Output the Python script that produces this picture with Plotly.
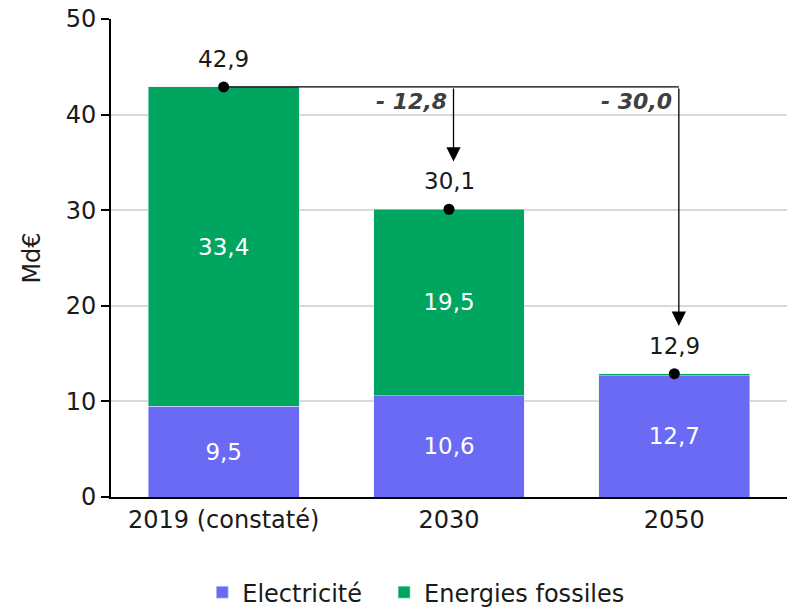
import plotly.graph_objects as go

categories = ["2019 (constaté)", "2030", "2050"]
electricite = [9.5, 10.6, 12.7]
fossiles = [33.4, 19.5, 0.2]
totals = [42.9, 30.1, 12.9]
y_ticks = [0, 10, 20, 30, 40, 50]

PURPLE = "#6a6af4"
GREEN = "#00a55f"
FONT = "DejaVu Sans"
FS = 24

def fmt(v):
    return f"{v:.1f}".replace(".", ",")

fig = go.Figure()
fig.add_bar(x=categories, y=electricite, name="Electricité", marker_color=PURPLE,
            text=[fmt(v) for v in electricite], textposition="inside",
            insidetextanchor="middle", textfont=dict(color="white", size=FS - 1, family=FONT),
            width=0.67, legend="legend")
fig.add_bar(x=categories, y=fossiles, name="Energies fossiles", marker_color=GREEN,
            text=[fmt(v) if v > 2 else "" for v in fossiles], textposition="inside",
            insidetextanchor="middle", textfont=dict(color="white", size=FS - 1, family=FONT),
            width=0.67, legend="legend2")
fig.add_scatter(x=categories, y=totals, mode="markers", marker=dict(color="black", size=11),
                showlegend=False, hoverinfo="skip")

for i, t in enumerate(totals):
    fig.add_annotation(x=i, y=t, text=fmt(t), showarrow=False, yshift=28,
                       font=dict(size=FS - 1, color="#1a1a1a", family=FONT))

# connector line from 2019 total to 2050
base = totals[0]
xoff = 0.02
fig.add_shape(type="line", x0=0, x1=2 + xoff, y0=base, y1=base,
              line=dict(color="black", width=1.3), layer="above")
for i in (1, 2):
    tip = totals[i] + 5.0
    fig.add_annotation(x=i + xoff, y=tip, ax=i + xoff, ay=base, axref="x", ayref="y",
                       xref="x", yref="y", showarrow=True, arrowhead=2, arrowsize=2.2,
                       arrowwidth=1.3, arrowcolor="black", text="")
    fig.add_annotation(x=i + xoff, y=base, text="<b><i>" + fmt(totals[i] - base).replace("-", "- ") + "</i></b>",
                       showarrow=False, xanchor="right", yanchor="top", xshift=-5, yshift=0,
                       font=dict(size=FS - 2, color="#3f3f3f", family=FONT))

leg_common = dict(orientation="h", xanchor="left", y=-0.2, yanchor="middle",
                  font=dict(size=FS), itemwidth=30)

fig.update_layout(
    barmode="stack",
    width=787, height=607,
    margin=dict(l=111, r=0, t=19, b=110, autoexpand=False),
    paper_bgcolor="white", plot_bgcolor="white",
    font=dict(family=FONT, size=FS, color="#1a1a1a"),
    separators=", ",
    legend=dict(x=0.135, **leg_common),
    legend2=dict(x=0.404, **leg_common),
    xaxis=dict(type="category", range=[-0.5, 2.5], showline=True, linecolor="black",
               linewidth=2, ticks="", tickfont=dict(size=FS), showgrid=False),
    yaxis=dict(range=[0, 50], tickvals=y_ticks, showline=True, linecolor="black", linewidth=2,
               ticks="outside", ticklen=8, tickcolor="black", tickwidth=2,
               gridcolor="#d9d9d9", gridwidth=1.5, zeroline=False, tickfont=dict(size=FS),
               title=dict(text="Md€", font=dict(size=FS), standoff=18)),
    bargap=0.33,
)

fig.write_html("out.html")
